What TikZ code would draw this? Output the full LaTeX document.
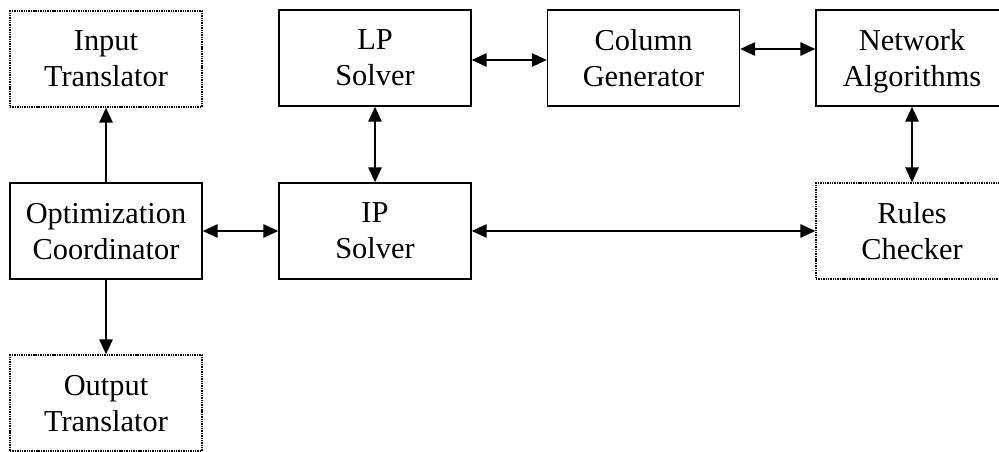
\documentclass[tikz,border=0pt]{standalone}
\usepackage{fontspec}
\setmainfont{Liberation Serif}
\usetikzlibrary{arrows.meta}

\tikzset{
  block/.style={draw, line width=0.85pt, minimum width=3.84cm, minimum height=1.92cm,
    inner sep=0pt, align=center, text depth=0pt, font=\fontsize{17.3}{20.5}\selectfont},
  ioblock/.style={block, dash pattern=on 0.8pt off 0.55pt},
  link/.style={line width=0.85pt, arrows={Triangle[length=0.3cm, width=0.27cm]-Triangle[length=0.3cm, width=0.27cm]}},
  uplink/.style={line width=0.85pt, arrows={-Triangle[length=0.3cm, width=0.27cm]}}
}

\begin{document}
\begin{tikzpicture}[x=0.02cm, y=-0.02cm]
      \useasboundingbox (0,0) rectangle (999,452);

      % left column
      \node[ioblock] (input) at (106,59) {Input\\Translator};
      \node[block] (coord) at (106,231) {Optimization\\Coordinator};
      \node[ioblock] (output) at (106,403) {Output\\Translator};

      % solvers
      \node[block] (lp) at (375,58) {LP\\Solver};
      \node[block] (ip) at (375,231) {IP\\Solver};

      \node[block] (colgen) at (643.5,58) {Column\\Generator};
      \node[block] (netalg) at (912,58) {Network\\Algorithms};
      \node[ioblock] (rules) at (912,231) {Rules\\Checker};

      \draw[uplink] (coord) -- (input);
      \draw[uplink] (coord) -- (output);
      \draw[link] (coord) -- (ip);
      \draw[link] (lp) -- (ip);
      \draw[link] (ip) -- (rules);
      \draw[link] ([yshift=-0.04cm]lp.east) -- ([yshift=-0.04cm]colgen.west);
      \draw[link] ([yshift=0.18cm]colgen.east) -- ([yshift=0.18cm]netalg.west);
      \draw[link] (netalg) -- (rules);
    \end{tikzpicture}
\end{document}
